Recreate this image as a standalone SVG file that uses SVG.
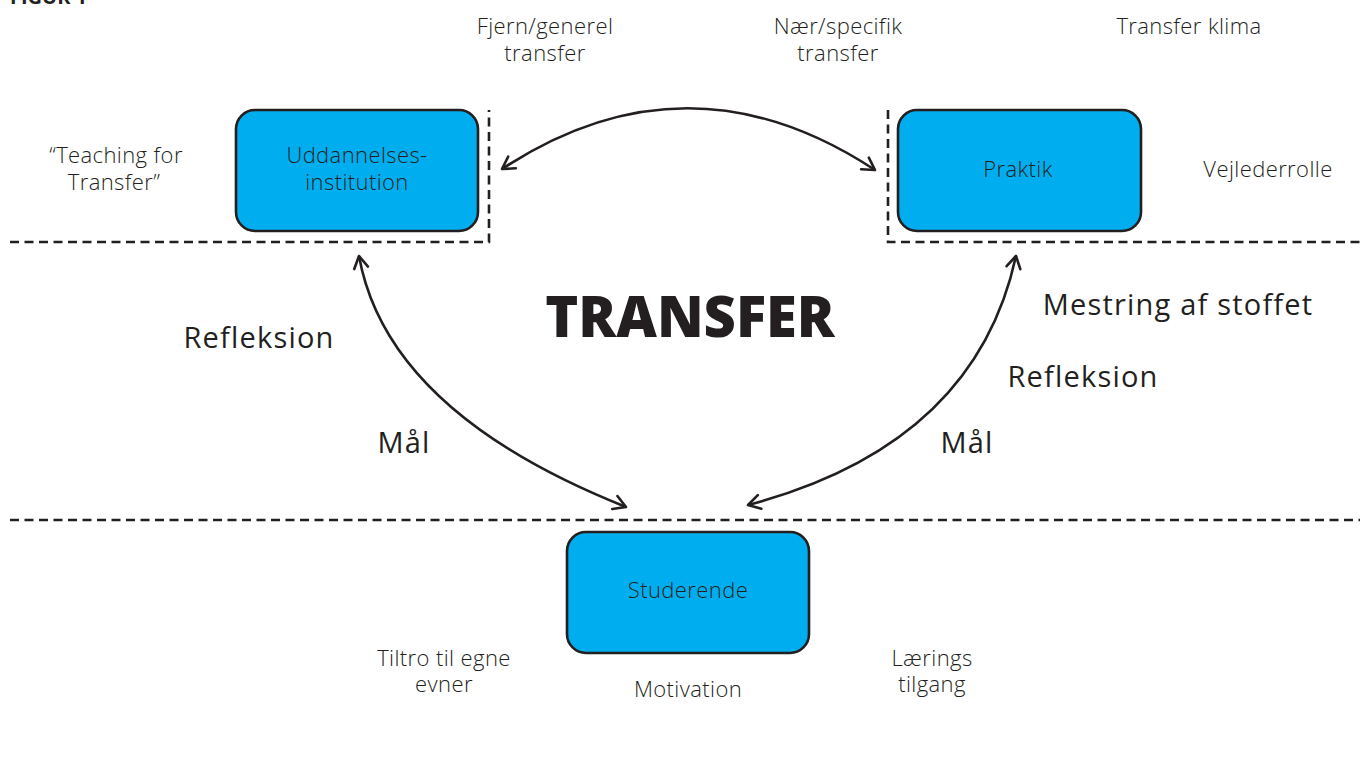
<svg xmlns="http://www.w3.org/2000/svg" width="1360" height="758" viewBox="0 0 1360 758">
  <style>
    text { font-family: "Open Sans", "Liberation Sans", sans-serif; fill: #231f20; }
    .small { font-size: 22px; font-weight: 300; letter-spacing: 0.4px; text-anchor: middle; }
    .label { font-size: 29px; letter-spacing: 1.2px; text-anchor: middle; }
    .title { font-size: 56px; font-weight: 800; text-anchor: middle; }
    .fig { font-size: 20px; font-weight: 700; }
    .box { fill: #00aeef; stroke: #231f20; stroke-width: 2.6; }
    .dash { fill: none; stroke: #231f20; stroke-width: 2.6; stroke-dasharray: 9 5.5; }
    .arc { fill: none; stroke: #231f20; stroke-width: 2.6; marker-start: url(#chev); marker-end: url(#chev); }
  </style>
  <defs>
    <marker id="chev" viewBox="0 0 18 18" refX="16" refY="9" markerWidth="18" markerHeight="18" markerUnits="userSpaceOnUse" orient="auto-start-reverse">
      <path d="M4,2 L16,9 L4,16" fill="none" stroke="#231f20" stroke-width="2.6" stroke-linecap="round" stroke-linejoin="round"/>
    </marker>
  </defs>

  <rect width="1360" height="758" fill="#ffffff"/>

  <text class="fig" x="10" y="4">FIGUR 1</text>

  <!-- zone boundaries -->
  <g id="zones">
    <path class="dash" d="M10,242 H489 V110"/>
    <path class="dash" d="M888,110 V242 H1360"/>
    <path class="dash" d="M10,520 H1360"/>
  </g>

  <!-- connectors -->
  <g id="connectors">
    <path class="arc" d="M502,169 Q688,47 875,170"/>
    <path class="arc" d="M359,256 Q387,412 626,507"/>
    <path class="arc" d="M1016,256 Q975,445 748,505"/>
  </g>

  <g id="node-uddannelse">
    <rect class="box" x="236" y="110" width="242" height="121" rx="19"/>
    <text class="small" x="357" y="163">Uddannelses-</text>
    <text class="small" x="357" y="190">institution</text>
  </g>

  <g id="node-praktik">
    <rect class="box" x="898" y="110" width="243" height="121" rx="19"/>
    <text class="small" x="1018" y="177">Praktik</text>
  </g>

  <g id="node-studerende">
    <rect class="box" x="567" y="532" width="242" height="121" rx="19"/>
    <text class="small" x="688" y="598">Studerende</text>
  </g>

  <!-- labels -->
  <g id="labels">
    <text class="small" x="545" y="34">Fjern/generel</text>
    <text class="small" x="545" y="61">transfer</text>
    <text class="small" x="838" y="34">Nær/specifik</text>
    <text class="small" x="838" y="61">transfer</text>
    <text class="small" x="1189" y="34">Transfer klima</text>
    <text class="small" x="116" y="163">“Teaching for</text>
    <text class="small" x="114" y="190">Transfer”</text>
    <text class="small" x="1268" y="177">Vejlederrolle</text>
    <text class="title" x="690" y="337">TRANSFER</text>
    <text class="label" x="259" y="348">Refleksion</text>
    <text class="label" x="404" y="453">Mål</text>
    <text class="label" x="1178" y="315">Mestring af stoffet</text>
    <text class="label" x="1083" y="387">Refleksion</text>
    <text class="label" x="967" y="453">Mål</text>
    <text class="small" x="444" y="666">Tiltro til egne</text>
    <text class="small" x="444" y="692">evner</text>
    <text class="small" x="688" y="697">Motivation</text>
    <text class="small" x="932" y="666">Lærings</text>
    <text class="small" x="932" y="692">tilgang</text>
  </g>
</svg>
